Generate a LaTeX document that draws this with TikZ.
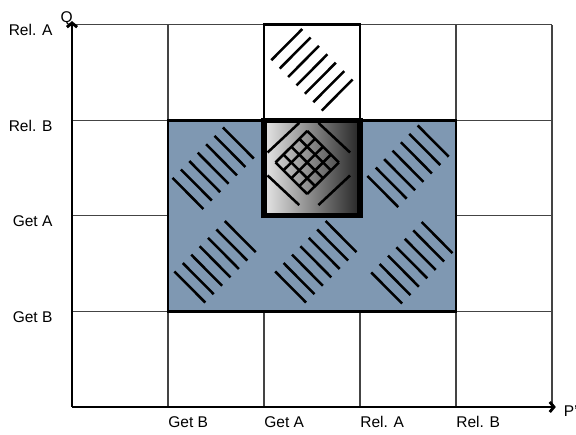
\documentclass[tikz,border=0pt]{standalone}
\usepackage{fontspec}
\setmainfont{Liberation Sans}
\usepackage{tikz}
\usetikzlibrary{arrows.meta,positioning}
\definecolor{regionfill}{HTML}{7F98B2}
\definecolor{gridgray}{HTML}{444444}

\begin{document}
\begin{tikzpicture}[x=2cm, y=1.99cm,
  gridline/.style={draw=gridgray, line width=0.6pt},
  axis/.style={-{Straight Barb[length=2.5pt, width=6pt]}, line width=1.7pt},
  region/.style={draw, line width=1.7pt},
  overlap/.style={draw, line width=3pt},
  hatch/.style={line width=1.5pt, line cap=butt},
  ticklabel/.style={inner sep=0pt, font=\fontsize{9.2}{11}\selectfont}
]
  \useasboundingbox (-1.5cm,-0.5833cm) rectangle (10.5cm,8.479cm);

  % grid
  \foreach \i in {1,...,5}
    \draw[gridline] (\i,0) -- (\i,4);
  \foreach \j in {1,...,4}
    \draw[gridline] (0,\j) -- (5,\j);

  % regions
  \draw[region, fill=regionfill] (1,1) rectangle (4,3);
  \draw[region, fill=white] (2,3) rectangle (3,4);
  \shade[left color=white!90!black, right color=black!85] (2,2) rectangle (3,3);
  \draw[overlap] (2,2) rectangle (3,3);

  % hatching
  \foreach \cx/\cy in {1.47/2.5, 3.5/2.52, 1.49/1.52, 2.54/1.52, 3.54/1.51}
    \foreach \k in {-3,...,3}
      \draw[hatch, shift={({\cx+0.0875*\k},{\cy+0.088*\k})}] (-0.161,0.163) -- (0.161,-0.163);
  \foreach \k in {-3,...,3}
    \draw[hatch, shift={({2.5+0.0875*\k},{3.53-0.088*\k})}] (-0.161,-0.163) -- (0.161,0.163);

  % cross-hatching in the overlap
  \begin{scope}[shift={(2.467,2.544)}]
    \draw[hatch] (-0.43,0.12) -- (-0.1,0.43);
    \draw[hatch] (0.1,0.43) -- (0.43,0.12);
    \draw[hatch] (-0.43,-0.12) -- (-0.1,-0.43);
    \draw[hatch] (0.1,-0.43) -- (0.43,-0.12);
  \end{scope}
  \begin{scope}[shift={(2.45,2.56)}]
    \foreach \k in {0,...,4} {
      \draw[hatch] ({-0.33+0.0825*\k},{-0.0825*\k}) -- ({0.0825*\k},{0.33-0.0825*\k});
      \draw[hatch] ({-0.33+0.0825*\k},{0.0825*\k}) -- ({0.0825*\k},{-0.33+0.0825*\k});
    }
  \end{scope}

  % axes
  \coordinate (origin) at (0,0);
  \coordinate (qtip) at (0,4.04);
  \coordinate (ptip) at (5.04,0);
  \draw[axis] (origin) -- (qtip);
  \draw[axis] (origin) -- (ptip);
  \node[ticklabel] (qlabel) at (-0.055,4.07) {Q};
  \node[ticklabel, anchor=west] (plabel) at (5.12,-0.04) {P'};

  \node[ticklabel, anchor=west] (xgetB) at (1,-0.157) {Get B};
  \node[ticklabel, anchor=west] (xgetA) at (2,-0.157) {Get A};
  \node[ticklabel, anchor=west] (xrelA) at (3,-0.157) {Rel. A};
  \node[ticklabel, anchor=west] (xrelB) at (4,-0.157) {Rel. B};

  \node[ticklabel, anchor=east] (yrelA) at (-0.2,3.945) {Rel. A};
  \node[ticklabel, anchor=east] (yrelB) at (-0.2,2.945) {Rel. B};
  \node[ticklabel, anchor=east] (ygetA) at (-0.2,1.945) {Get A};
  \node[ticklabel, anchor=east] (ygetB) at (-0.2,0.945) {Get B};
\end{tikzpicture}
\end{document}
